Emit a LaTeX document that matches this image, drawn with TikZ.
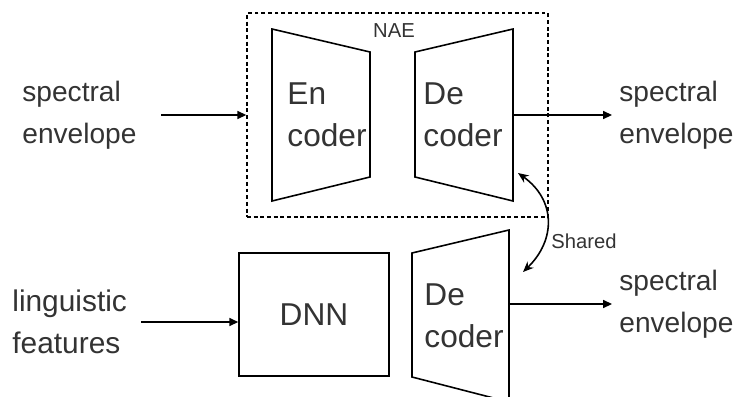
\documentclass[tikz,border=0pt]{standalone}
\usepackage{fontspec}
\setmainfont{Liberation Sans}
\usetikzlibrary{arrows.meta}

\tikzset{
  lbl/.style={font=\fontsize{18}{23.8}\selectfont, text=black!80, align=left, inner sep=4pt},
  side/.style={lbl, font=\fontsize{16}{23.8}\selectfont},
  small/.style={font=\fontsize{11.5}{14}\selectfont, text=black!80, inner sep=0pt},
  coderbox/.style={draw, line width=0.9pt, line join=miter},
  link/.style={-{Triangle[length=5pt,width=4.5pt]}, line width=0.9pt},
}

\begin{document}
\begin{tikzpicture}[x=0.02cm, y=-0.02cm]
\clip (0,0) rectangle (737,396);

% autoencoder frame
\node[draw, dash pattern=on 2.2pt off 1.6pt, line width=0.9pt, minimum width=6.02cm, minimum height=4.08cm] (nae) at (397.5,115) {};
\node[small] (naelbl) at (394,31) {NAE};

% encoder / decoder of the autoencoder
\draw[coderbox] (272,29) -- (370,52) -- (370,177) -- (272,201) -- cycle;
\draw[coderbox] (415,52) -- (513,29) -- (513,201) -- (415,177) -- cycle;
\node[lbl] (enc) at (327,115) {En\\coder};
\node[lbl] (dec) at (463,115) {De\\coder};

% synthesis path
\node[draw, line width=0.9pt, minimum width=3cm, minimum height=2.46cm, lbl, align=center] (dnn) at (314,314.5) {DNN};
\draw[coderbox] (412,253) -- (509,230) -- (509,402) -- (412,377) -- cycle;
\node[lbl] (dec2) at (464,316) {De\\coder};

% inputs and outputs
\node[side, anchor=west] (inTop) at (15,115) {spectral\\envelope};
\node[side, anchor=west] (outTop) at (612,115) {spectral\\envelope};
\node[side, font=\fontsize{17}{23.8}\selectfont, anchor=west] (inBot) at (5,322) {linguistic\\features};
\node[side, anchor=west] (outBot) at (612,304) {spectral\\envelope};

\coordinate (decOut) at (513,115);
\coordinate (dec2Out) at (509,304);
\coordinate (decTip) at (518,173);
\coordinate (dec2Tip) at (523,272);

\draw[link] ([xshift=10pt]inTop.east) -- (inTop.east -| nae.west);
\draw[link] (decOut) -- (outTop.west);
\draw[link] ([xshift=4pt]inBot.east) -- (inBot.east -| dnn.west);
\draw[link] (dec2Out) -- (outBot.west);

% weight sharing
\draw[{Stealth[length=6pt,width=5pt]}-{Stealth[length=6pt,width=5pt]}, line width=0.9pt]
  (decTip) .. controls (556,200) and (556,240) .. (dec2Tip);
\node[small, anchor=west] (shared) at (551,241) {Shared};
\end{tikzpicture}
\end{document}
